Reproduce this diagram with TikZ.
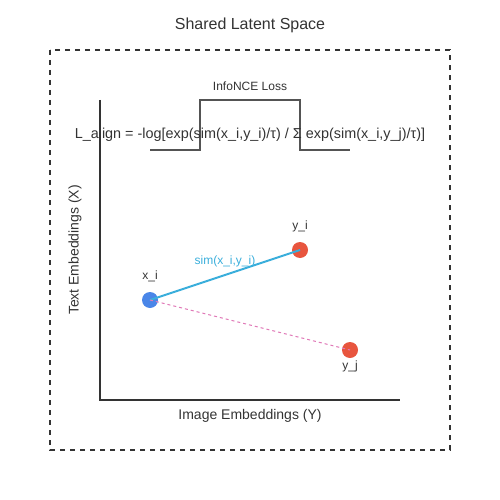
\documentclass[tikz,border=0pt]{standalone}
\usepackage{fontspec}
\setmainfont{Liberation Sans}
\begin{document}
\begin{tikzpicture}[x=1pt,y=-1pt,
  txt/.style={inner sep=0pt, text=black!80},
  axis/.style={draw=black!80, line width=2pt},
  stepline/.style={draw=black!67, line width=2pt},
  pt/.style={circle, inner sep=0pt, minimum size=16pt},
  ptlab/.style={inner sep=0pt, text=black!80, font=\fontsize{12}{14}\selectfont}]
\useasboundingbox (0,0) rectangle (500,500);
\draw[black!80, line width=2pt, dash pattern=on 5pt off 5pt] (50,50) rectangle (450,450);
\node[txt, font=\fontsize{16}{18}\selectfont] (title) at (250,25) {Shared Latent Space};
% axes
\coordinate (o) at (100,400);
\coordinate (ytop) at (100,100);
\coordinate (xend) at (400,400);
\draw[axis] (ytop) -- (o) -- (xend);
\node[txt, font=\fontsize{14}{16}\selectfont] (xlab) at (250,416) {Image Embeddings (Y)};
\node[txt, font=\fontsize{14}{16}\selectfont, rotate=90] (ylab) at (75,250) {Text Embeddings (X)};
% step curve
\coordinate (s0) at (150,150);
\coordinate (s1) at (200,150);
\coordinate (s2) at (200,100);
\coordinate (s3) at (300,100);
\coordinate (s4) at (300,150);
\coordinate (s5) at (350,150);
\draw[stepline] (s0) -- (s1) -- (s2) -- (s3) -- (s4) -- (s5);
\node[txt, font=\fontsize{12}{14}\selectfont] (loss) at (250,86) {InfoNCE Loss};
\node[txt, font=\fontsize{14.4}{16}\selectfont] (formula) at (250,135) {L\_align = -log[exp(sim(x\_i,y\_i)/τ) / Σ exp(sim(x\_i,y\_j)/τ)]};
% points
\node[pt, fill={rgb,255:red,74;green,134;blue,232}] (xi) at (150,300) {};
\node[pt, fill={rgb,255:red,232;green,85;blue,62}] (yi) at (300,250) {};
\node[pt, fill={rgb,255:red,232;green,85;blue,62}] (yj) at (350,350) {};
\draw[draw={rgb,255:red,58;green,174;blue,219}, line width=2pt] (xi.center) -- (yi.center);
\draw[draw={rgb,255:red,224;green,122;blue,184}, line width=1pt, dash pattern=on 3pt off 3pt] (xi.center) -- (yj.center);
\node[ptlab] (xil) at (150,276) {x\_i};
\node[ptlab] (yil) at (300,226) {y\_i};
\node[ptlab] (yjl) at (350,366) {y\_j};
\node[inner sep=0pt, text={rgb,255:red,58;green,174;blue,219}, font=\fontsize{12}{14}\selectfont] (siml) at (225,261) {sim(x\_i,y\_i)};
\end{tikzpicture}
\end{document}
